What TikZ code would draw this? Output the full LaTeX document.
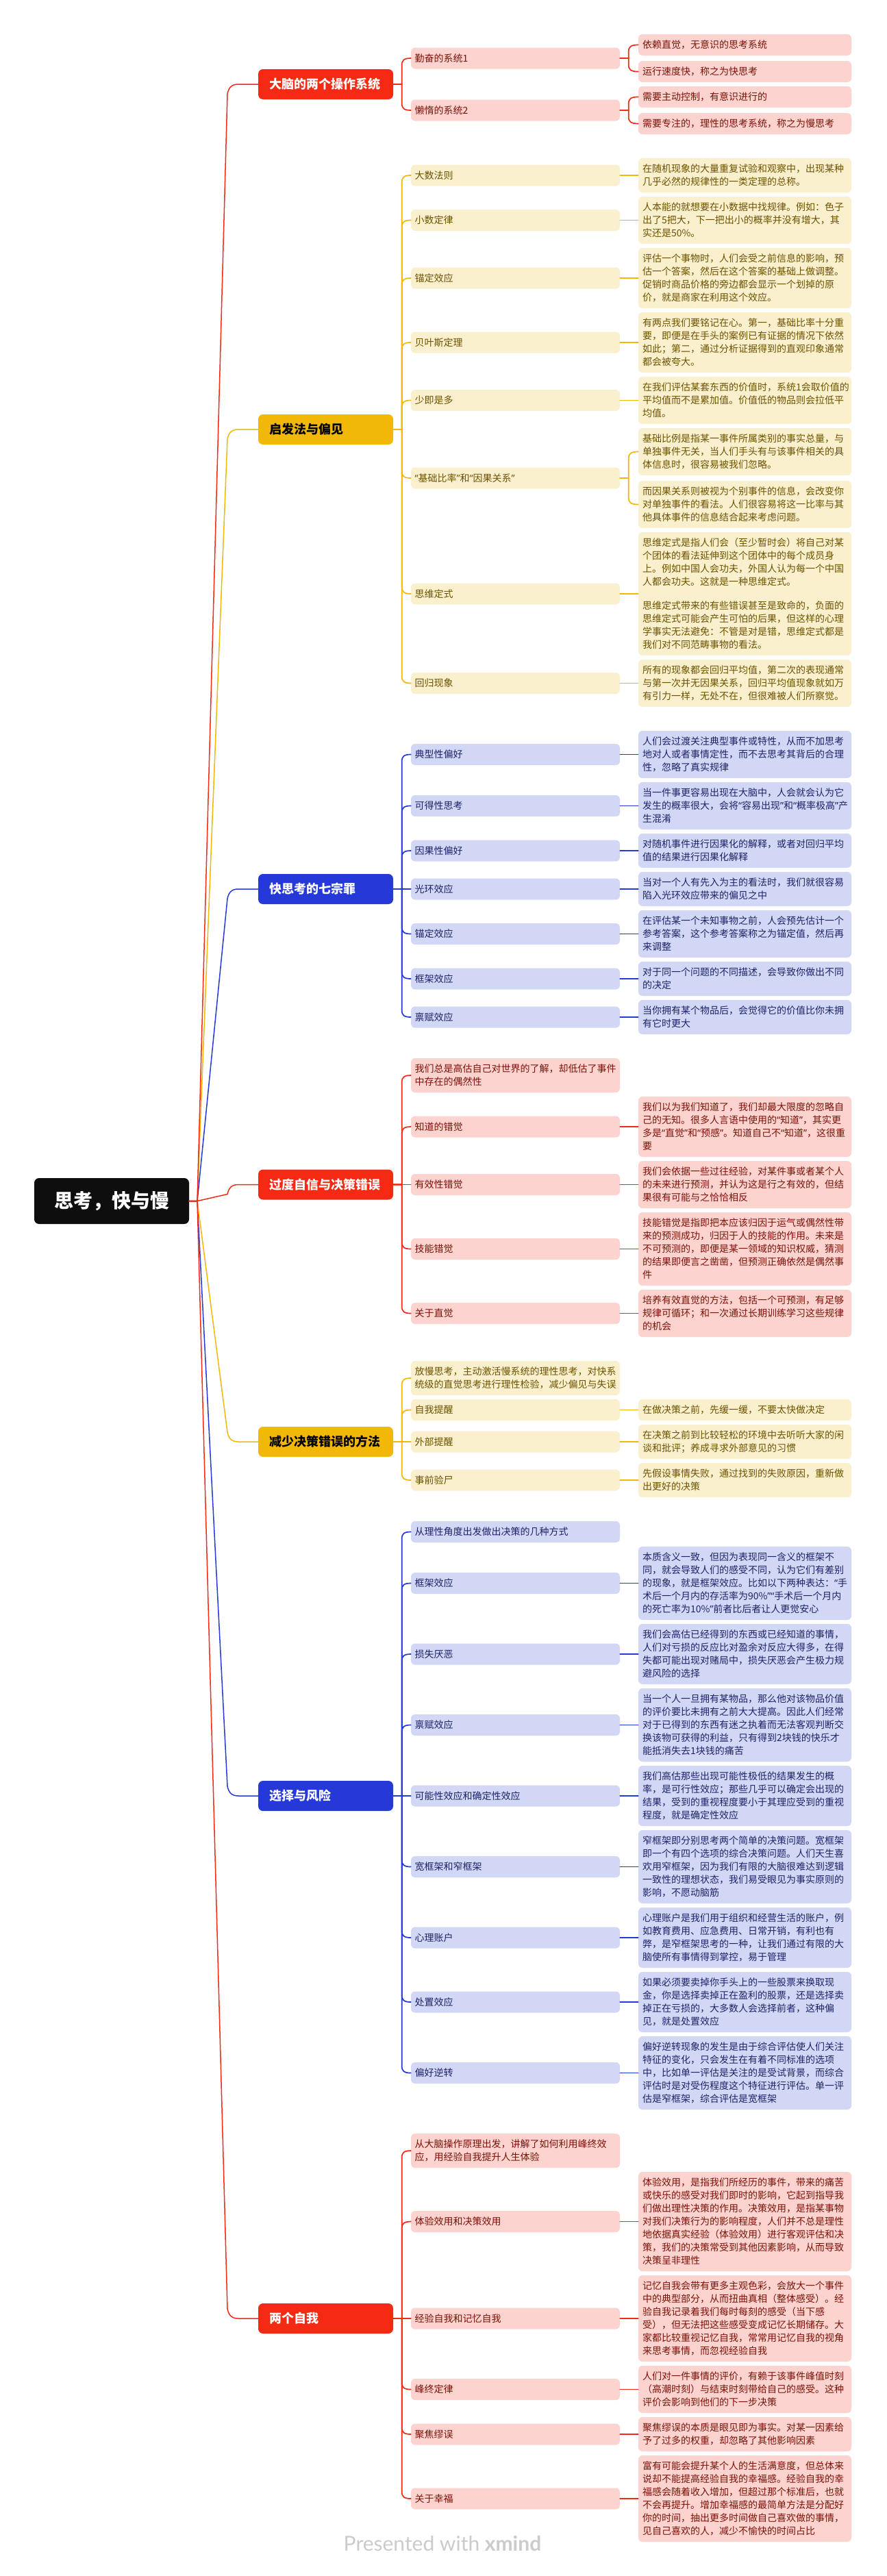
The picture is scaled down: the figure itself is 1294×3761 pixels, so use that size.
\documentclass[tikz,border=0pt]{standalone}
\usepackage{fontspec}
\usetikzlibrary{calc}
\setmainfont{Noto Sans CJK SC}
\newfontfamily\qf{Noto Sans}
\newfontfamily\ftf{Lato}
\definecolor{cR}{HTML}{F42A15}
\definecolor{cY}{HTML}{F2B807}
\definecolor{cB}{HTML}{2539D9}
\definecolor{pR}{HTML}{FCD3CE}
\definecolor{pY}{HTML}{FBF0CD}
\definecolor{pB}{HTML}{D3D7F6}
\definecolor{tR}{HTML}{7A1208}
\definecolor{tY}{HTML}{6B5200}
\definecolor{tB}{HTML}{1C2266}
\definecolor{cK}{HTML}{0E0E0E}
\definecolor{cF}{HTML}{CBCBCB}
\newcommand{\qa}{{\qf “}}
\newcommand{\qb}{{\qf ”}}
\tikzset{
  boxbase/.style={rectangle,rounded corners=6pt,inner ysep=0pt,align=left,anchor=center,font=\fontsize{14}{19}\selectfont},
  lvtwo/.style={boxbase,minimum width=305pt,inner xsep=5.5pt,text width=294pt},
  lvthree/.style={boxbase,minimum width=311pt,inner xsep=6pt,text width=299pt},
  gR/.style={fill=pR,text=tR},
  gY/.style={fill=pY,text=tY},
  gB/.style={fill=pB,text=tB},
  branchbox/.style={rectangle,rounded corners=7pt,minimum width=197pt,minimum height=44pt,inner xsep=16pt,inner ysep=0pt,text width=165pt,align=left,font=\fontsize{18}{22}\selectfont\bfseries},
  rootbox/.style={rectangle,rounded corners=7pt,fill=cK,text=white,minimum width=226pt,minimum height=67pt,inner sep=0pt,font=\fontsize{28}{34}\selectfont\bfseries},
  lnk/.style={line width=1.7pt,line cap=round,line join=round},
  rlnk/.style={line width=1.5pt,line cap=round,line join=round},
}
% L2 node: group, name, centre y, lines, text
\newcommand{\LB}[5]{\node[lvtwo,#1,minimum height={12pt+19pt*#4}] (#2) at (752.5,#3) {#5};}
% L3 node
\newcommand{\LC}[5]{\node[lvthree,#1,minimum height={12pt+19pt*#4}] (#2) at (1087.5,#3) {#5};}
% branch: fill, text colour, name, y, text
\newcommand{\BR}[5]{\node[branchbox,fill=#1,text=#2] (#3) at (475.5,#4) {#5};}
% root link: colour, branch, sign
\newcommand{\lnkR}[3]{%
  \coordinate (ra) at ($(trunk|-#2.west)+(44,{(#3)*14})$);
  \draw[rlnk,#1] (root.east) -- (trunk) -- (ra) .. controls ($(ra)+(2,{-(#3)*9})$) and ($(ra)+(6,{-(#3)*14})$) .. ($(ra)+(16,{-(#3)*14})$) -- (#2.west);}
% fork link: colour, parent, child, sign (+1 child above parent, -1 below)
\newcommand{\lnkF}[4]{%
  \coordinate (fx) at ($(#2.east)+(12.5,0)$);
  \coordinate (fa) at ($(fx|-#3.west)+(0,{(#4)*10})$);
  \draw[lnk,#1] (#2.east) -- (fx) -- (fa) .. controls ($(fa)+(0,{-(#4)*7})$) and ($(fa)+(3,{-(#4)*10})$) .. (#3.west);}
% straight link
\newcommand{\lnkS}[3]{\draw[lnk,#1] (#2.east) -- (#3.west);}
\begin{document}
\begin{tikzpicture}[x=1pt,y=-1pt]
\useasboundingbox (0,0) rectangle (1294,3761);
\fill[white] (0,0) rectangle (1294,3761);

\node[rootbox] (root) at (163,1753.5) {思考，快与慢};
\coordinate (trunk) at (288,1753.5);

% ---------- branch 1
\BR{cR}{white}{b1}{123}{大脑的两个操作系统}
\LB{gR}{a1}{85}{1}{勤奋的系统1}
\LB{gR}{a2}{161}{1}{懒惰的系统2}
\LC{gR}{a1x}{65.5}{1}{依赖直觉，无意识的思考系统}
\LC{gR}{a1y}{104.5}{1}{运行速度快，称之为快思考}
\LC{gR}{a2x}{141.5}{1}{需要主动控制，有意识进行的}
\LC{gR}{a2y}{180.5}{1}{需要专注的，理性的思考系统，称之为慢思考}
% ---------- branch 2
\BR{cY}{black}{b2}{627}{启发法与偏见}
\LB{gY}{c1}{256}{1}{大数法则}
\LC{gY}{c1x}{256}{2}{在随机现象的大量重复试验和观察中，出现某种\\几乎必然的规律性的一类定理的总称。}
\LB{gY}{c2}{321.5}{1}{小数定律}
\LC{gY}{c2x}{321.5}{3}{人本能的就想要在小数据中找规律。例如：色子\\出了5把大，下一把出小的概率并没有增大，其\\实还是50\%。}
\LB{gY}{c3}{406}{1}{锚定效应}
\LC{gY}{c3x}{406}{4}{评估一个事物时，人们会受之前信息的影响，预\\估一个答案，然后在这个答案的基础上做调整。\\促销时商品价格的旁边都会显示一个划掉的原\\价，就是商家在利用这个效应。}
\LB{gY}{c4}{500}{1}{贝叶斯定理}
\LC{gY}{c4x}{500}{4}{有两点我们要铭记在心。第一，基础比率十分重\\要，即便是在手头的案例已有证据的情况下依然\\如此；第二，通过分析证据得到的直观印象通常\\都会被夸大。}
\LB{gY}{c5}{584.5}{1}{少即是多}
\LC{gY}{c5x}{584.5}{3}{在我们评估某套东西的价值时，系统1会取价值的\\平均值而不是累加值。价值低的物品则会拉低平\\均值。}
\LB{gY}{c6}{698}{1}{\qa 基础比率\qb 和\qa 因果关系\qb}
\LC{gY}{c6x}{659.5}{3}{基础比例是指某一事件所属类别的事实总量，与\\单独事件无关，当人们手头有与该事件相关的具\\体信息时，很容易被我们忽略。}
\LC{gY}{c6y}{736.5}{3}{而因果关系则被视为个别事件的信息，会改变你\\对单独事件的看法。人们很容易将这一比率与其\\他具体事件的信息结合起来考虑问题。}
\LB{gY}{c7}{867}{1}{思维定式}
\LC{gY}{c7x}{867}{8.84}{思维定式是指人们会（至少暂时会）将自己对某\\个团体的看法延伸到这个团体中的每个成员身\\上。例如中国人会功夫，外国人认为每一个中国\\人都会功夫。这就是一种思维定式。\\[16pt]思维定式带来的有些错误甚至是致命的，负面的\\思维定式可能会产生可怕的后果，但这样的心理\\学事实无法避免：不管是对是错，思维定式都是\\我们对不同范畴事物的看法。}
\LB{gY}{c8}{997.5}{1}{回归现象}
\LC{gY}{c8x}{997.5}{3}{所有的现象都会回归平均值，第二次的表现通常\\与第一次并无因果关系，回归平均值现象就如万\\有引力一样，无处不在，但很难被人们所察觉。}
% ---------- branch 3
\BR{cB}{white}{b3}{1298}{快思考的七宗罪}
\LB{gB}{d1}{1101.5}{1}{典型性偏好}
\LC{gB}{d1x}{1101.5}{3}{人们会过渡关注典型事件或特性，从而不加思考\\地对人或者事情定性，而不去思考其背后的合理\\性，忽略了真实规律}
\LB{gB}{d2}{1176.5}{1}{可得性思考}
\LC{gB}{d2x}{1176.5}{3}{当一件事更容易出现在大脑中，人会就会认为它\\发生的概率很大，会将\qa 容易出现\qb 和\qa 概率极高\qb 产\\生混淆}
\LB{gB}{d3}{1242}{1}{因果性偏好}
\LC{gB}{d3x}{1242}{2}{对随机事件进行因果化的解释，或者对回归平均\\值的结果进行因果化解释}
\LB{gB}{d4}{1298}{1}{光环效应}
\LC{gB}{d4x}{1298}{2}{当对一个人有先入为主的看法时，我们就很容易\\陷入光环效应带来的偏见之中}
\LB{gB}{d5}{1363.5}{1}{锚定效应}
\LC{gB}{d5x}{1363.5}{3}{在评估某一个未知事物之前，人会预先估计一个\\参考答案，这个参考答案称之为锚定值，然后再\\来调整}
\LB{gB}{d6}{1429}{1}{框架效应}
\LC{gB}{d6x}{1429}{2}{对于同一个问题的不同描述，会导致你做出不同\\的决定}
\LB{gB}{d7}{1485}{1}{禀赋效应}
\LC{gB}{d7x}{1485}{2}{当你拥有某个物品后，会觉得它的价值比你未拥\\有它时更大}
% ---------- branch 4
\BR{cR}{white}{b4}{1729.5}{过度自信与决策错误}
\LB{gR}{e1}{1570}{2}{我们总是高估自己对世界的了解，却低估了事件\\中存在的偶然性}
\LB{gR}{e2}{1645}{1}{知道的错觉}
\LC{gR}{e2x}{1645}{4}{我们以为我们知道了，我们却最大限度的忽略自\\己的无知。很多人言语中使用的\qa 知道\qb，其实更\\多是\qa 直觉\qb 和\qa 预感\qb。知道自己不\qa 知道\qb，这很重\\要}
\LB{gR}{e3}{1729.5}{1}{有效性错觉}
\LC{gR}{e3x}{1729.5}{3}{我们会依据一些过往经验，对某件事或者某个人\\的未来进行预测，并认为这是行之有效的，但结\\果很有可能与之恰恰相反}
\LB{gR}{e4}{1823.5}{1}{技能错觉}
\LC{gR}{e4x}{1823.5}{5}{技能错觉是指即把本应该归因于运气或偶然性带\\来的预测成功，归因于人的技能的作用。未来是\\不可预测的，即便是某一领域的知识权威，猜测\\的结果即便言之凿凿，但预测正确依然是偶然事\\件}
\LB{gR}{e5}{1917.5}{1}{关于直觉}
\LC{gR}{e5x}{1917.5}{3}{培养有效直觉的方法，包括一个可预测，有足够\\规律可循环；和一次通过长期训练学习这些规律\\的机会}
% ---------- branch 5
\BR{cY}{black}{b5}{2105}{减少决策错误的方法}
\LB{gY}{f1}{2012}{2}{放慢思考，主动激活慢系统的理性思考，对快系\\统级的直觉思考进行理性检验，减少偏见与失误}
\LB{gY}{f2}{2058.5}{1}{自我提醒}
\LC{gY}{f2x}{2058.5}{1}{在做决策之前，先缓一缓，不要太快做决定}
\LB{gY}{f3}{2105}{1}{外部提醒}
\LC{gY}{f3x}{2105}{2}{在决策之前到比较轻松的环境中去听听大家的闲\\谈和批评；养成寻求外部意见的习惯}
\LB{gY}{f4}{2161}{1}{事前验尸}
\LC{gY}{f4x}{2161}{2}{先假设事情失败，通过找到的失败原因，重新做\\出更好的决策}
% ---------- branch 6
\BR{cB}{white}{b6}{2622}{选择与风险}
\LB{gB}{g1}{2236.5}{1}{从理性角度出发做出决策的几种方式}
\LB{gB}{g2}{2311.5}{1}{框架效应}
\LC{gB}{g2x}{2311.5}{5}{本质含义一致，但因为表现同一含义的框架不\\同，就会导致人们的感受不同，认为它们有差别\\的现象，就是框架效应。比如以下两种表达：\qa 手\\术后一个月内的存活率为90\%\qb\qa 手术后一个月内\\的死亡率为10\%\qb 前者比后者让人更觉安心}
\LB{gB}{g3}{2415}{1}{损失厌恶}
\LC{gB}{g3x}{2415}{4}{我们会高估已经得到的东西或已经知道的事情，\\人们对亏损的反应比对盈余对反应大得多，在得\\失都可能出现对赌局中，损失厌恶会产生极力规\\避风险的选择}
\LB{gB}{g4}{2518.5}{1}{禀赋效应}
\LC{gB}{g4x}{2518.5}{5}{当一个人一旦拥有某物品，那么他对该物品价值\\的评价要比未拥有之前大大提高。因此人们经常\\对于已得到的东西有迷之执着而无法客观判断交\\换该物可获得的利益，只有得到2块钱的快乐才\\能抵消失去1块钱的痛苦}
\LB{gB}{g5}{2622}{1}{可能性效应和确定性效应}
\LC{gB}{g5x}{2622}{4}{我们高估那些出现可能性极低的结果发生的概\\率，是可行性效应；那些几乎可以确定会出现的\\结果，受到的重视程度要小于其理应受到的重视\\程度，就是确定性效应}
\LB{gB}{g6}{2725.5}{1}{宽框架和窄框架}
\LC{gB}{g6x}{2725.5}{5}{窄框架即分别思考两个简单的决策问题。宽框架\\即一个有四个选项的综合决策问题。人们天生喜\\欢用窄框架，因为我们有限的大脑很难达到逻辑\\一致性的理想状态，我们易受眼见为事实原则的\\影响，不愿动脑筋}
\LB{gB}{g7}{2829}{1}{心理账户}
\LC{gB}{g7x}{2829}{4}{心理账户是我们用于组织和经营生活的账户，例\\如教育费用、应急费用、日常开销，有利也有\\弊，是窄框架思考的一种，让我们通过有限的大\\脑使所有事情得到掌控，易于管理}
\LB{gB}{g8}{2923}{1}{处置效应}
\LC{gB}{g8x}{2923}{4}{如果必须要卖掉你手头上的一些股票来换取现\\金，你是选择卖掉正在盈利的股票，还是选择卖\\掉正在亏损的，大多数人会选择前者，这种偏\\见，就是处置效应}
\LB{gB}{g9}{3026.5}{1}{偏好逆转}
\LC{gB}{g9x}{3026.5}{5}{偏好逆转现象的发生是由于综合评估使人们关注\\特征的变化，只会发生在有着不同标准的选项\\中，比如单一评估是关注的是受试背景，而综合\\评估时是对受伤程度这个特征进行评估。单一评\\估是窄框架，综合评估是宽框架}
% ---------- branch 7
\BR{cR}{white}{b7}{3385}{两个自我}
\LB{gR}{h1}{3140}{2}{从大脑操作原理出发，讲解了如何利用峰终效\\应，用经验自我提升人生体验}
\LB{gR}{h2}{3243.5}{1}{体验效用和决策效用}
\LC{gR}{h2x}{3243.5}{7}{体验效用，是指我们所经历的事件，带来的痛苦\\或快乐的感受对我们即时的影响，它起到指导我\\们做出理性决策的作用。决策效用，是指某事物\\对我们决策行为的影响程度，人们并不总是理性\\地依据真实经验（体验效用）进行客观评估和决\\策，我们的决策常受到其他因素影响，从而导致\\决策呈非理性}
\LB{gR}{h3}{3385}{1}{经验自我和记忆自我}
\LC{gR}{h3x}{3385}{6}{记忆自我会带有更多主观色彩，会放大一个事件\\中的典型部分，从而扭曲真相（整体感受）。经\\验自我记录着我们每时每刻的感受（当下感\\受），但无法把这些感受变成记忆长期储存。大\\家都比较重视记忆自我，常常用记忆自我的视角\\来思考事情，而忽视经验自我}
\LB{gR}{h4}{3488.5}{1}{峰终定律}
\LC{gR}{h4x}{3488.5}{3}{人们对一件事情的评价，有赖于该事件峰值时刻\\（高潮时刻）与结束时刻带给自己的感受。这种\\评价会影响到他们的下一步决策}
\LB{gR}{h5}{3554}{1}{聚焦缪误}
\LC{gR}{h5x}{3554}{2}{聚焦缪误的本质是眼见即为事实。对某一因素给\\予了过多的权重，却忽略了其他影响因素}
\LB{gR}{h6}{3648}{1}{关于幸福}
\LC{gR}{h6x}{3648}{6}{富有可能会提升某个人的生活满意度，但总体来\\说却不能提高经验自我的幸福感。经验自我的幸\\福感会随着收入增加，但超过那个标准后，也就\\不会再提升。增加幸福感的最简单方法是分配好\\你的时间，抽出更多时间做自己喜欢做的事情，\\见自己喜欢的人，减少不愉快的时间占比}

\node[text=cF,font=\ftf\fontsize{30}{36}\selectfont,inner sep=0pt] (footer) at (646,3713) {Presented with \textbf{xmind}};

% ---------- links root -> branches
\lnkR{cY}{b2}{1}
\lnkR{cB}{b3}{1}
\lnkR{cB}{b6}{-1}
\lnkR{cY}{b5}{-1}
\lnkR{cR}{b7}{-1}
\lnkR{cR}{b1}{1}
\lnkR{cR}{b4}{1}
% ---------- branch 1
\lnkF{cR}{b1}{a1}{1}
\lnkF{cR}{b1}{a2}{-1}
\lnkF{cR}{a1}{a1x}{1}
\lnkF{cR}{a1}{a1y}{-1}
\lnkF{cR}{a2}{a2x}{1}
\lnkF{cR}{a2}{a2y}{-1}
% ---------- branch 2
\lnkF{cY}{b2}{c1}{1}\lnkS{cY}{c1}{c1x}
\lnkF{cY}{b2}{c2}{1}\lnkS{cY}{c2}{c2x}
\lnkF{cY}{b2}{c3}{1}\lnkS{cY}{c3}{c3x}
\lnkF{cY}{b2}{c4}{1}\lnkS{cY}{c4}{c4x}
\lnkF{cY}{b2}{c5}{1}\lnkS{cY}{c5}{c5x}
\lnkF{cY}{b2}{c6}{-1}
\lnkF{cY}{c6}{c6x}{1}
\lnkF{cY}{c6}{c6y}{-1}
\lnkF{cY}{b2}{c7}{-1}\lnkS{cY}{c7}{c7x}
\lnkF{cY}{b2}{c8}{-1}\lnkS{cY}{c8}{c8x}
% ---------- branch 3
\lnkF{cB}{b3}{d1}{1}\lnkS{cB}{d1}{d1x}
\lnkF{cB}{b3}{d2}{1}\lnkS{cB}{d2}{d2x}
\lnkF{cB}{b3}{d3}{1}\lnkS{cB}{d3}{d3x}
\lnkS{cB}{b3}{d4}\lnkS{cB}{d4}{d4x}
\lnkF{cB}{b3}{d5}{-1}\lnkS{cB}{d5}{d5x}
\lnkF{cB}{b3}{d6}{-1}\lnkS{cB}{d6}{d6x}
\lnkF{cB}{b3}{d7}{-1}\lnkS{cB}{d7}{d7x}
% ---------- branch 4
\lnkF{cR}{b4}{e1}{1}
\lnkF{cR}{b4}{e2}{1}\lnkS{cR}{e2}{e2x}
\lnkS{cR}{b4}{e3}\lnkS{cR}{e3}{e3x}
\lnkF{cR}{b4}{e4}{-1}\lnkS{cR}{e4}{e4x}
\lnkF{cR}{b4}{e5}{-1}\lnkS{cR}{e5}{e5x}
% ---------- branch 5
\lnkF{cY}{b5}{f1}{1}
\lnkF{cY}{b5}{f2}{1}\lnkS{cY}{f2}{f2x}
\lnkS{cY}{b5}{f3}\lnkS{cY}{f3}{f3x}
\lnkF{cY}{b5}{f4}{-1}\lnkS{cY}{f4}{f4x}
% ---------- branch 6
\lnkF{cB}{b6}{g1}{1}
\lnkF{cB}{b6}{g2}{1}\lnkS{cB}{g2}{g2x}
\lnkF{cB}{b6}{g3}{1}\lnkS{cB}{g3}{g3x}
\lnkF{cB}{b6}{g4}{1}\lnkS{cB}{g4}{g4x}
\lnkS{cB}{b6}{g5}\lnkS{cB}{g5}{g5x}
\lnkF{cB}{b6}{g6}{-1}\lnkS{cB}{g6}{g6x}
\lnkF{cB}{b6}{g7}{-1}\lnkS{cB}{g7}{g7x}
\lnkF{cB}{b6}{g8}{-1}\lnkS{cB}{g8}{g8x}
\lnkF{cB}{b6}{g9}{-1}\lnkS{cB}{g9}{g9x}
% ---------- branch 7
\lnkF{cR}{b7}{h1}{1}
\lnkF{cR}{b7}{h2}{1}\lnkS{cR}{h2}{h2x}
\lnkS{cR}{b7}{h3}\lnkS{cR}{h3}{h3x}
\lnkF{cR}{b7}{h4}{-1}\lnkS{cR}{h4}{h4x}
\lnkF{cR}{b7}{h5}{-1}\lnkS{cR}{h5}{h5x}
\lnkF{cR}{b7}{h6}{-1}\lnkS{cR}{h6}{h6x}
\end{tikzpicture}
\end{document}
